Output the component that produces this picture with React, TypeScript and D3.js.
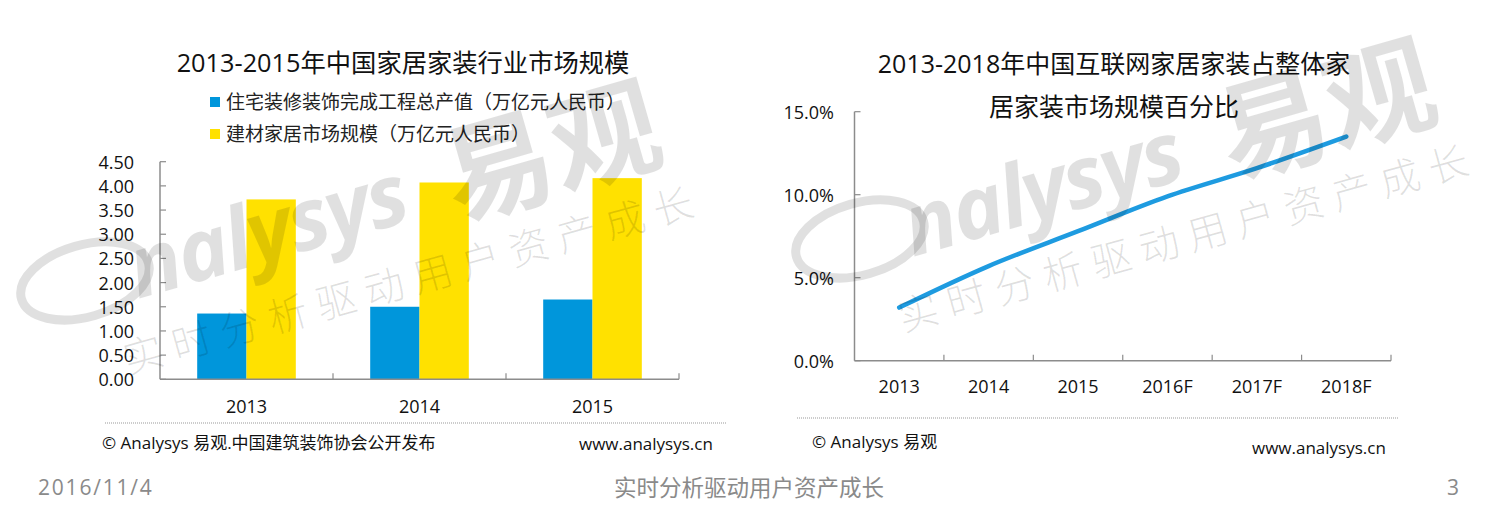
import React, { useEffect, useRef } from "react"
import * as d3 from "d3"

// left chart: 2013-2015 market size (万亿元)
const years = ["2013", "2014", "2015"]
const decorationOutput = [1.36, 1.50, 1.65]
const materialMarket = [3.72, 4.07, 4.16]
const legendLabels = [
  "住宅装修装饰完成工程总产值（万亿元人民币）",
  "建材家居市场规模（万亿元人民币）",
]
const barTicks = [0, 0.5, 1, 1.5, 2, 2.5, 3, 3.5, 4, 4.5]

// right chart: internet share of whole market (%)
const shareYears = ["2013", "2014", "2015", "2016F", "2017F", "2018F"]
const shareValues = [3.2, 5.7, 7.8, 9.9, 11.6, 13.5]
const shareTicks = [0, 5, 10, 15]

const FONT = "'Open Sans', 'Noto Sans CJK SC', sans-serif"
const BLUE = "#0096db"
const YELLOW = "#ffe100"
const LINE = "#1e9be0"
const AXIS = "#8c8c8c"

function drawWatermark(g, dx, dy) {
  const wm = g.append("g")
    .attr("transform", `translate(${dx},${dy})`)
    .attr("fill", "#000")
    .attr("fill-opacity", 0.12)
    .style("pointer-events", "none")

  const brand = wm.append("g").attr("transform", "translate(138,299) rotate(-16)")
  brand.append("ellipse")
    .attr("cx", -46).attr("cy", -32)
    .attr("rx", 66).attr("ry", 36)
    .attr("fill", "none")
    .attr("stroke", "#000").attr("stroke-opacity", 0.12)
    .attr("stroke-width", 9)
  brand.append("text")
    .attr("x", 0).attr("y", 0)
    .attr("font-family", "'Open Sans', sans-serif")
    .attr("font-size", 86).attr("font-weight", 700).attr("font-style", "italic")
    .attr("letter-spacing", -2)
    .text("nalysys")
  brand.append("text")
    .attr("x", 328).attr("y", 12)
    .attr("font-family", "'Noto Sans CJK SC', sans-serif")
    .attr("font-size", 110).attr("font-weight", 700)
    .text("易观")

  wm.append("g").attr("transform", "translate(128,374) rotate(-15.6)")
    .append("text")
    .attr("font-family", "'Noto Sans CJK SC', sans-serif")
    .attr("font-size", 40).attr("font-weight", 300)
    .attr("letter-spacing", 10)
    .text("实时分析驱动用户资产成长")
}

function drawBars(svg) {
  const g = svg.append("g")
  const x0 = d3.scaleBand().domain(years).range([160, 679]).paddingInner(0.43).paddingOuter(0.215)
  const x1 = d3.scaleBand().domain(["0", "1"]).range([0, x0.bandwidth()])
  const y = d3.scaleLinear().domain([0, 4.5]).range([379.3, 161.7])
  const series = [decorationOutput, materialMarket]
  const colors = [BLUE, YELLOW]

  g.append("text")
    .attr("x", 403).attr("y", 62)
    .attr("text-anchor", "middle").attr("dominant-baseline", "central")
    .attr("font-size", 25.3).attr("fill", "#111")
    .text("2013-2015年中国家居家装行业市场规模")

  legendLabels.forEach((label, i) => {
    const ly = [102, 134][i]
    g.append("rect").attr("x", 210).attr("y", ly - 5).attr("width", 10).attr("height", 10).attr("fill", colors[i])
    g.append("text")
      .attr("x", 226).attr("y", ly)
      .attr("dominant-baseline", "central")
      .attr("font-size", 19).attr("fill", "#222")
      .text(label)
  })

  series.forEach((values, s) => {
    g.selectAll(".bar" + s)
      .data(values)
      .enter().append("rect")
        .attr("x", (d, i) => x0(years[i]) + x1(String(s)))
        .attr("y", d => y(d))
        .attr("width", x1.bandwidth())
        .attr("height", d => y(0) - y(d))
        .attr("fill", colors[s])
  })

  const [xStart, xEnd] = x0.range()
  g.append("line").attr("x1", xStart).attr("x2", xStart).attr("y1", y(0)).attr("y2", y(4.5))
    .attr("stroke", AXIS).attr("stroke-width", 1.5)
  g.append("line").attr("x1", xStart).attr("x2", xEnd).attr("y1", y(0)).attr("y2", y(0))
    .attr("stroke", AXIS).attr("stroke-width", 1.5)

  barTicks.forEach(t => {
    g.append("line").attr("x1", xStart).attr("x2", xStart + 6).attr("y1", y(t)).attr("y2", y(t))
      .attr("stroke", AXIS).attr("stroke-width", 1.2)
    g.append("text")
      .attr("x", 134).attr("y", y(t))
      .attr("text-anchor", "end").attr("dominant-baseline", "central")
      .attr("font-size", 18).attr("fill", "#111")
      .text(d3.format(".2f")(t))
  })

  years.forEach((yr, i) => {
    const tx = xStart + (i + 1) * x0.step()
    g.append("line").attr("x1", tx).attr("x2", tx).attr("y1", y(0)).attr("y2", y(0) - 6)
      .attr("stroke", AXIS).attr("stroke-width", 1.2)
    g.append("text")
      .attr("x", x0(yr) + x0.bandwidth() / 2).attr("y", 406)
      .attr("text-anchor", "middle").attr("dominant-baseline", "central")
      .attr("font-size", 18).attr("fill", "#111")
      .text(yr)
  })
}

function drawLine(svg) {
  const g = svg.append("g")
  const x = d3.scaleBand().domain(shareYears).range([854.5, 1391])
  const y = d3.scaleLinear().domain([0, 15]).range([360.7, 111.7])

  g.append("text")
    .attr("x", 1114).attr("y", 63)
    .attr("text-anchor", "middle").attr("dominant-baseline", "central")
    .attr("font-size", 25).attr("fill", "#111")
    .text("2013-2018年中国互联网家居家装占整体家")
  g.append("text")
    .attr("x", 1114).attr("y", 106)
    .attr("text-anchor", "middle").attr("dominant-baseline", "central")
    .attr("font-size", 25).attr("fill", "#111")
    .text("居家装市场规模百分比")

  const [xStart, xEnd] = x.range()
  g.append("line").attr("x1", xStart).attr("x2", xStart).attr("y1", y(0)).attr("y2", y(15))
    .attr("stroke", AXIS).attr("stroke-width", 1.5)
  g.append("line").attr("x1", xStart).attr("x2", xEnd).attr("y1", y(0)).attr("y2", y(0))
    .attr("stroke", AXIS).attr("stroke-width", 1.5)

  shareTicks.forEach(t => {
    g.append("line").attr("x1", xStart).attr("x2", xStart + 6).attr("y1", y(t)).attr("y2", y(t))
      .attr("stroke", AXIS).attr("stroke-width", 1.2)
    g.append("text")
      .attr("x", 834).attr("y", y(t))
      .attr("text-anchor", "end").attr("dominant-baseline", "central")
      .attr("font-size", 18).attr("fill", "#111")
      .text(t.toFixed(1) + "%")
  })

  shareYears.forEach((yr, i) => {
    const tx = xStart + (i + 1) * x.step()
    g.append("line").attr("x1", tx).attr("x2", tx).attr("y1", y(0)).attr("y2", y(0) - 6)
      .attr("stroke", AXIS).attr("stroke-width", 1.2)
    g.append("text")
      .attr("x", x(yr) + x.bandwidth() / 2).attr("y", 386)
      .attr("text-anchor", "middle").attr("dominant-baseline", "central")
      .attr("font-size", 18).attr("fill", "#111")
      .text(yr)
  })

  const line = d3.line()
    .x((d, i) => x(shareYears[i]) + x.bandwidth() / 2)
    .y(d => y(d))
    .curve(d3.curveMonotoneX)
  g.append("path")
    .attr("d", line(shareValues))
    .attr("fill", "none")
    .attr("stroke", LINE)
    .attr("stroke-width", 4.5)
    .attr("stroke-linecap", "round")
}

function drawFooter(svg) {
  const g = svg.append("g")
  g.append("line").attr("x1", 105).attr("x2", 727).attr("y1", 423).attr("y2", 423)
    .attr("stroke", "#999").attr("stroke-dasharray", "1,1")
  g.append("line").attr("x1", 797).attr("x2", 1399).attr("y1", 418).attr("y2", 418)
    .attr("stroke", "#999").attr("stroke-dasharray", "1,1")

  const small = (x, y, txt) => g.append("text")
    .attr("x", x).attr("y", y)
    .attr("dominant-baseline", "central")
    .attr("font-size", 17).attr("fill", "#111")
    .text(txt)
  small(102, 442, "© Analysys 易观.中国建筑装饰协会公开发布")
  small(579, 443, "www.analysys.cn")
  small(812, 441, "© Analysys 易观")
  small(1252, 447, "www.analysys.cn")

  const grey = (x, anchor, size, txt) => g.append("text")
    .attr("x", x).attr("y", 487)
    .attr("text-anchor", anchor).attr("dominant-baseline", "central")
    .attr("font-size", size).attr("fill", "#8a8a8a")
    .text(txt)
  grey(38, "start", 21, "2016/11/4").attr("letter-spacing", 1.8)
  grey(749, "middle", 22.5, "实时分析驱动用户资产成长")
  grey(1459, "end", 21, "3")
}

export default function App() {
  const svgRef = useRef(null)

  useEffect(() => {
    const svg = d3.select(svgRef.current)
    svg.selectAll("*").remove()
    svg.append("rect").attr("width", 1500).attr("height", 514).attr("fill", "#fff")
    drawBars(svg)
    drawLine(svg)
    drawFooter(svg)
    drawWatermark(svg, 0, 0)
    drawWatermark(svg, 775, -42)
  }, [])

  return (
    <svg
      ref={svgRef}
      width={1500}
      height={514}
      style={{ position: "absolute", left: 0, top: 0, fontFamily: FONT }}
    />
  )
}
